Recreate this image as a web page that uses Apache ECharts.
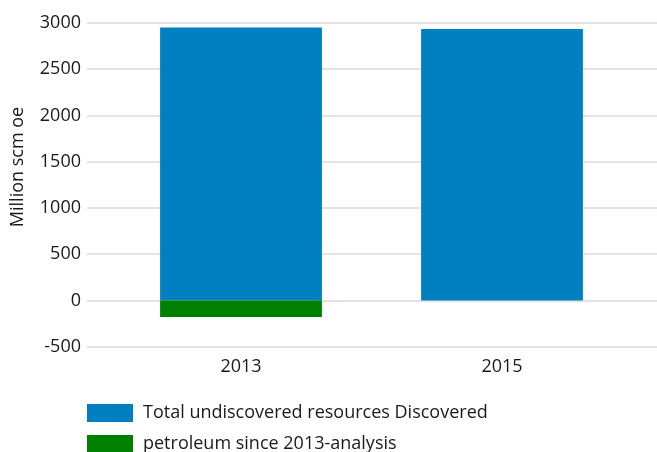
<!DOCTYPE html>
<html><head><meta charset="utf-8">
<script src="https://cdn.jsdelivr.net/npm/echarts@6/dist/echarts.min.js"></script>
<style>html,body{margin:0;padding:0;background:#fff}#c{width:657px;height:452px}</style>
</head><body><div id="c"></div>
<script>
const categories = ['2013', '2015'];
const undiscovered = [2950, 2934];
const discoveredSince2013 = [-180, null];
const seriesNames = ['Total undiscovered resources Discovered', 'petroleum since 2013-analysis'];
const yTitle = 'Million scm oe';

const font = 'Open Sans';
const fs = 18;
const txt = '#1a1a1a';
const legendBase = {
  orient: 'vertical', left: 87, padding: 0,
  itemWidth: 46, itemHeight: 18, icon: 'rect',
  textStyle: {fontSize: fs, color: txt, fontFamily: font, padding: [0, 0, 0, 5]}
};
const chart = echarts.init(document.getElementById('c'), null, {renderer: 'canvas'});
chart.setOption({
  animation: false,
  textStyle: {fontFamily: font},
  grid: [
    {left: 87, right: 0, top: 23, bottom: 105.3},
    {left: 110.5, right: 24.5, top: 23, bottom: 105.3}
  ],
  xAxis: [
    {type: 'value', gridIndex: 0, show: false, min: 0, max: 1},
    {type: 'category', gridIndex: 1, data: categories,
     axisLine: {show: false}, axisTick: {show: false},
     axisLabel: {fontSize: fs, color: txt, margin: 11, fontFamily: font}}
  ],
  yAxis: [
    {type: 'value', gridIndex: 0, min: -500, max: 3000, interval: 500,
     axisLine: {show: false}, axisTick: {show: false},
     axisLabel: {fontSize: fs, color: txt, margin: 6, fontFamily: font,
                 formatter: v => String(v)},
     splitLine: {lineStyle: {color: '#dadada', width: 1.5}}},
    {type: 'value', gridIndex: 1, min: -500, max: 3000, interval: 500, show: false,
     splitLine: {show: false}}
  ],
  legend: [
    Object.assign({}, legendBase, {top: 404, data: [seriesNames[0]]}),
    Object.assign({}, legendBase, {top: 435, data: [seriesNames[1]]})
  ],
  graphic: [{
    type: 'text', x: 18, y: 167, rotation: Math.PI / 2,
    style: {text: yTitle, fontSize: fs, fontFamily: font, fill: txt,
            textAlign: 'center', textVerticalAlign: 'middle'}
  }],
  series: [
    {name: seriesNames[0], type: 'bar', stack: 'a', xAxisIndex: 1, yAxisIndex: 1,
     barWidth: '62%', itemStyle: {color: '#0080c0'}, data: undiscovered},
    {name: seriesNames[1], type: 'bar', stack: 'a', xAxisIndex: 1, yAxisIndex: 1,
     barWidth: '62%', itemStyle: {color: '#008000'}, data: discoveredSince2013}
  ]
});
</script></body></html>
